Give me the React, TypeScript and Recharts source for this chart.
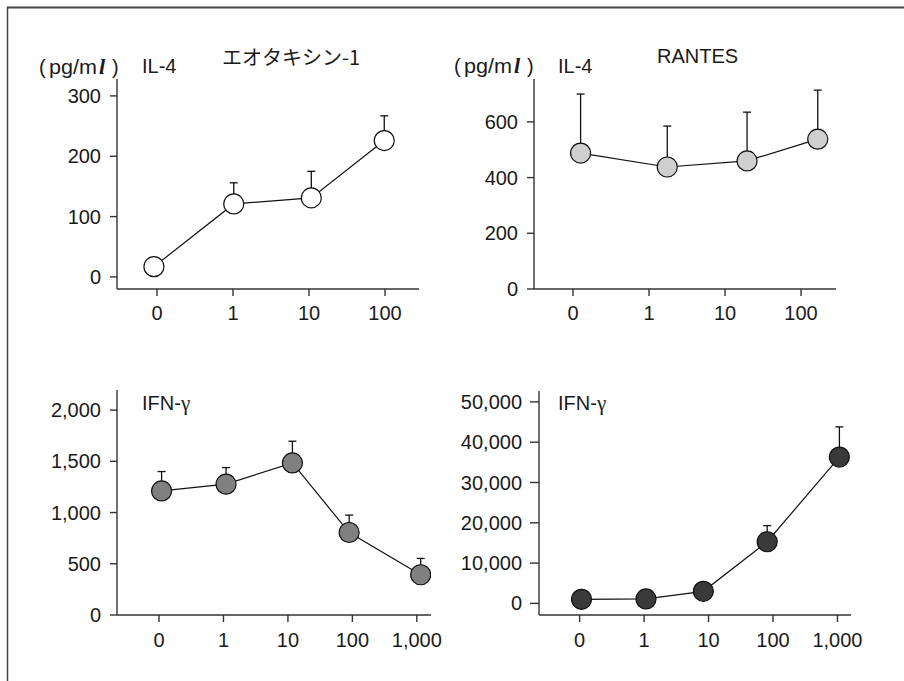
import React from 'react';
import { LineChart, Line, XAxis, YAxis, ErrorBar } from 'recharts';

const FONT = '"Liberation Sans", Arial, sans-serif';
const INK = '#1a1a1a';

// dose labels on the x axes
const dose4 = ['0', '1', '10', '100'];
const dose5 = ['0', '1', '10', '100', '1,000'];

// top left: eotaxin-1 -> IL-4
const eoX = [-0.04, 1.01, 2.03, 2.99];
const eoIl4 = [17, 121, 131, 226];
const eoIl4Err = [0, 35, 44, 41];

// top right: RANTES -> IL-4
const raX = [0.1, 1.24, 2.29, 3.22];
const raIl4 = [488, 438, 460, 538];
const raIl4Err = [212, 147, 175, 176];

// bottom left: eotaxin-1 -> IFN-g
const eoIfnX = [0.04, 1.04, 2.07, 2.95, 4.06];
const eoIfn = [1211, 1277, 1484, 805, 393];
const eoIfnErr = [189, 162, 212, 170, 159];

// bottom right: RANTES -> IFN-g
const raIfnX = [0.03, 1.03, 1.92, 2.91, 4.03];
const raIfn = [1000, 1100, 3000, 15300, 36300];
const raIfnErr = [0, 0, 0, 4000, 7500];

const build = (xs: number[], vals: number[], errs: number[]) =>
  xs.map((x, i) => ({ x, v: vals[i], err: [0, errs[i]] }));

interface PanelProps {
  left: number;
  top: number;
  width: number;
  height: number;
  margin: { top: number; right: number; bottom: number; left: number };
  yWidth: number;
  ySize: number;
  yGap: number;
  xDomain: [number, number];
  labels: string[];
  yDomain: [number, number];
  yTicks: number[];
  data: any[];
  fill: string;
  xGap: number;
}

const Panel = (p: PanelProps) => {
  const tickStyle = { fill: INK, fontSize: 20, fontFamily: FONT };
  return (
    <div style={{ position: 'absolute', left: p.left, top: p.top }}>
      <LineChart width={p.width} height={p.height} data={p.data} margin={p.margin}>
        <XAxis
          type="number"
          dataKey="x"
          domain={p.xDomain}
          allowDataOverflow
          ticks={p.labels.map((_, i) => i)}
          interval={0}
          tickFormatter={(v: number) => p.labels[v]}
          height={40}
          tickSize={7}
          tickMargin={p.xGap}
          axisLine={{ stroke: '#333', strokeWidth: 1.4 }}
          tickLine={{ stroke: '#333', strokeWidth: 1.4 }}
          tick={tickStyle}
        />
        <YAxis
          type="number"
          domain={p.yDomain}
          allowDataOverflow
          ticks={p.yTicks}
          interval={0}
          tickFormatter={(v: number) => v.toLocaleString('en-US')}
          width={p.yWidth}
          tickSize={p.ySize}
          tickMargin={p.yGap}
          axisLine={{ stroke: '#333', strokeWidth: 1.4 }}
          tickLine={{ stroke: '#333', strokeWidth: 1.4 }}
          tick={tickStyle}
        />
        <Line
          type="linear"
          dataKey="v"
          stroke="#111"
          strokeWidth={1.2}
          dot={{ r: 10, fill: p.fill, stroke: '#111', strokeWidth: 1.2 }}
          activeDot={false}
          isAnimationActive={false}
        >
          <ErrorBar dataKey="err" direction="y" width={4} stroke="#111" strokeWidth={1.3} />
        </Line>
      </LineChart>
    </div>
  );
};

const Unit = ({ x, y }: { x: number; y: number }) => (
  <g fill={INK} fontSize={20} fontFamily={FONT}>
    <text x={x} y={y}>(</text>
    <text x={x + 10} y={y} textLength={48} lengthAdjust="spacingAndGlyphs">pg/m</text>
    <text x={x + 60} y={y} fontFamily='"Liberation Serif", serif' fontWeight="bold" fontStyle="italic" fontSize={22}>l</text>
    <text x={x + 73} y={y}>)</text>
  </g>
);

const Ifn = ({ x, y }: { x: number; y: number }) => (
  <text x={x} y={y} fill={INK} fontSize={20} fontFamily={FONT}>
    IFN-<tspan fontFamily='"Liberation Serif", serif' fontSize={21}>γ</tspan>
  </text>
);

export default function App() {
  return (
    <div style={{ position: 'absolute', left: 0, top: 0, width: 904, height: 681, background: '#fff', overflow: 'hidden' }}>
      <Panel
        left={0}
        top={0}
        width={450}
        height={340}
        margin={{ top: 79, right: 31, bottom: 11, left: 57 }}
        yWidth={60}
        ySize={7}
        yGap={9}
        xDomain={[-0.526, 3.447]}
        labels={dose4}
        yDomain={[-20, 328]}
        yTicks={[0, 100, 200, 300]}
        data={build(eoX, eoIl4, eoIl4Err)}
        fill="#ffffff"
        xGap={10}
      />
      <Panel
        left={450}
        top={0}
        width={454}
        height={340}
        margin={{ top: 79, right: 68, bottom: 11, left: 24 }}
        yWidth={60}
        ySize={7}
        yGap={9}
        xDomain={[-0.513, 3.46]}
        labels={dose4}
        yDomain={[0, 754]}
        yTicks={[0, 200, 400, 600]}
        data={build(raX, raIl4, raIl4Err)}
        fill="#cfcfcf"
        xGap={10}
      />
      <Panel
        left={0}
        top={340}
        width={450}
        height={341}
        margin={{ top: 50, right: 19, bottom: 26, left: 57 }}
        yWidth={60}
        ySize={7}
        yGap={9}
        xDomain={[-0.652, 4.22]}
        labels={dose5}
        yDomain={[0, 2196]}
        yTicks={[0, 500, 1000, 1500, 2000]}
        data={build(eoIfnX, eoIfn, eoIfnErr)}
        fill="#808080"
        xGap={11}
      />
      <Panel
        left={450}
        top={340}
        width={454}
        height={341}
        margin={{ top: 51, right: 53, bottom: 26, left: 19 }}
        yWidth={70}
        ySize={9}
        yGap={8}
        xDomain={[-0.63, 4.21]}
        labels={dose5}
        yDomain={[-2880, 52700]}
        yTicks={[0, 10000, 20000, 30000, 40000, 50000]}
        data={build(raIfnX, raIfn, raIfnErr)}
        fill="#3a3a3a"
        xGap={11}
      />
      <svg width={904} height={681} style={{ position: 'absolute', left: 0, top: 0, pointerEvents: 'none' }}>
        <line x1={7} y1={7.5} x2={904} y2={7.5} stroke="#444" strokeWidth={2} />
        <line x1={7.5} y1={7} x2={7.5} y2={681} stroke="#444" strokeWidth={1.5} />
        <Unit x={39} y={74} />
        <Unit x={454} y={73} />
        <g fill={INK} fontSize={20} fontFamily={FONT}>
          <text x={142} y={73}>IL-4</text>
          <text x={558} y={73}>IL-4</text>
          <text x={222} y={65} fontFamily='"Noto Sans CJK JP", sans-serif' fontSize={20}>エオタキシン-1</text>
          <text x={657} y={63}>RANTES</text>
        </g>
        <Ifn x={142} y={410} />
        <Ifn x={558} y={410} />
      </svg>
    </div>
  );
}
